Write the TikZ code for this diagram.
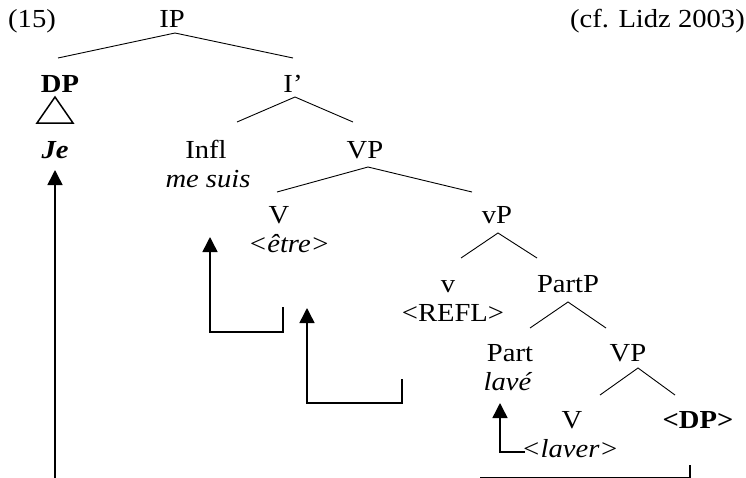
\documentclass[tikz,border=0pt]{standalone}
\usepackage{fontspec}
\setmainfont{Liberation Serif}[FakeStretch=1.1]
\usetikzlibrary{arrows.meta}
\begin{document}
\begin{tikzpicture}[x=1pt,y=-1pt,
  every node/.style={inner sep=0pt, anchor=base},
  font=\fontsize{26}{30}\selectfont,
  branch/.style={line width=0.9pt},
  tri/.style={line width=1.5pt, line join=miter},
  move/.style={line width=1.5pt, -{Triangle[width=15pt,length=15pt]}},
  trace/.style={line width=1.5pt}]
\useasboundingbox (0,0) rectangle (746,477);
% texts
\node (n15) at (8,27) [anchor=base west] {(15)};
\node (IP) at (172,27) {IP};
\node (cf) at (745,27) [anchor=base east] {(cf. Lidz 2003)};
\node (DP) at (60,92) {\textbf{DP}};
\node (I1) at (293,92) {I’};
\node (Je) at (55,158) {\textbf{\textit{Je}}};
\node (Infl) at (206,158) {Infl};
\node (mesuis) at (208,187) {\textit{me suis}};
\node (VP1) at (365,158) {VP};
\node (V1) at (279,223) {V};
\node (etre) at (289,252) {\textit{<être>}};
\node (vP) at (497,223) {vP};
\node (v) at (448,292) {v};
\node (refl) at (453,321) {<REFL>};
\node (PartP) at (568,292) {PartP};
\node (Part) at (510,361) {Part};
\node (lave) at (508,390) {\textit{lavé}};
\node (VP2) at (628,361) {VP};
\node (V2) at (572,428) {V};
\node (laver) at (570,457) {\textit{<laver>}};
\node (DPt) at (698,428) {\textbf{<DP>}};
% branch points
\coordinate (aIP) at (175,33);
\coordinate (eDP) at (58,58);
\coordinate (eI1) at (293,58);
\coordinate (aI1) at (295,97);
\coordinate (eInfl) at (237,122);
\coordinate (eVP1) at (353,122);
\coordinate (aVP1) at (368,167);
\coordinate (eV1) at (277,192);
\coordinate (evP) at (472,192);
\coordinate (avP) at (498,233);
\coordinate (ev) at (461,258);
\coordinate (ePartP) at (537,258);
\coordinate (aPartP) at (568,302);
\coordinate (ePart) at (530,328);
\coordinate (eVP2) at (606,328);
\coordinate (aVP2) at (638,368);
\coordinate (eV2) at (600,395);
\coordinate (eDPt) at (675,395);
\draw[branch] (eDP) -- (aIP) -- (eI1);
\draw[branch] (eInfl) -- (aI1) -- (eVP1);
\draw[branch] (eV1) -- (aVP1) -- (evP);
\draw[branch] (ev) -- (avP) -- (ePartP);
\draw[branch] (ePart) -- (aPartP) -- (eVP2);
\draw[branch] (eV2) -- (aVP2) -- (eDPt);
% triangle
\coordinate (tA) at (55,97);
\coordinate (tL) at (37,123);
\coordinate (tR) at (73,123);
\draw[tri] (tA) -- (tL) -- (tR) -- cycle;
% movement arrows
\coordinate (jeFoot) at (55,480);
\coordinate (jeTip) at (55,170);
\draw[move] (jeFoot) -- (jeTip);
\coordinate (b1s) at (283,307);
\coordinate (b1c) at (283,332);
\coordinate (b1d) at (210,332);
\coordinate (b1t) at (210,237);
\draw[move] (b1s) -- (b1c) -- (b1d) -- (b1t);
\coordinate (b2s) at (402,379);
\coordinate (b2c) at (402,403);
\coordinate (b2d) at (307,403);
\coordinate (b2t) at (307,308);
\draw[move] (b2s) -- (b2c) -- (b2d) -- (b2t);
\coordinate (b3s) at (525,452);
\coordinate (b3c) at (500,452);
\coordinate (b3t) at (500,403);
\draw[move] (b3s) -- (b3c) -- (b3t);
\coordinate (b4s) at (690,465);
\coordinate (b4c) at (690,477.3);
\coordinate (b4d) at (480,477.3);
\draw[trace] (b4s) -- (b4c) -- (b4d);
\end{tikzpicture}
\end{document}
